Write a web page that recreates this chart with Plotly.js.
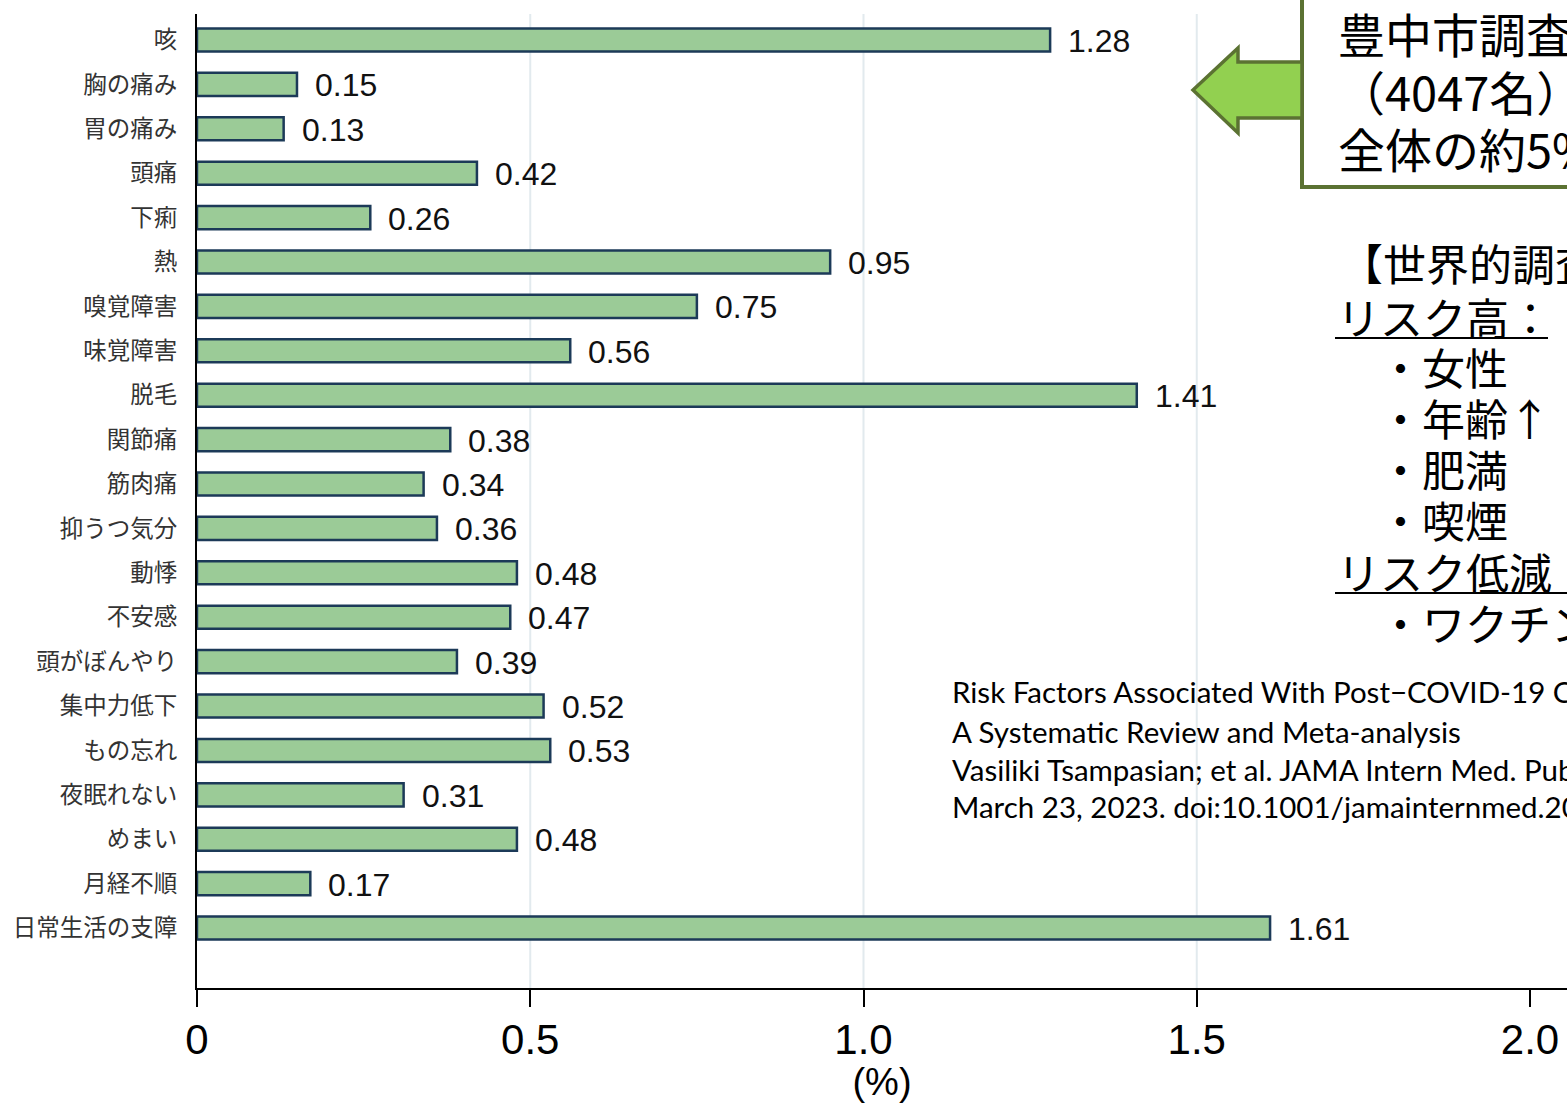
<!DOCTYPE html>
<html>
<head>
<meta charset="utf-8">
<script src="https://cdn.plot.ly/plotly-3.0.1.min.js"></script>
<style>
html,body{margin:0;padding:0;background:#fff;overflow:hidden;}
#chart{width:1567px;height:1103px;}
</style>
</head>
<body>
<div id="chart"></div>
<script>
// ---- data ----
const categories = ["咳","胸の痛み","胃の痛み","頭痛","下痢","熱","嗅覚障害","味覚障害","脱毛","関節痛","筋肉痛","抑うつ気分","動悸","不安感","頭がぼんやり","集中力低下","もの忘れ","夜眠れない","めまい","月経不順","日常生活の支障"];
const values = [1.28,0.15,0.13,0.42,0.26,0.95,0.75,0.56,1.41,0.38,0.34,0.36,0.48,0.47,0.39,0.52,0.53,0.31,0.48,0.17,1.61];
const xTickVals = [0,0.5,1.0,1.5,2.0];
const xTickText = ["0","0.5","1.0","1.5","2.0"];
const gridVals = [0.5,1.0,1.5];
const boxLines = ["豊中市調査","（4047名）","全体の約5%"];
const riskLines = ["【世界的調査】","リスク高：","・女性","・年齢↑","・肥満","・喫煙","リスク低減：","・ワクチン"];
const refLines = ["Risk Factors Associated With Post−COVID-19 Condition:","A Systematic Review and Meta-analysis","Vasiliki Tsampasian; et al. JAMA Intern Med. Published online","March 23, 2023. doi:10.1001/jamainternmed.2023.0750"];

// ---- layout helpers (pixel -> paper) ----
const W = 1567, H = 1103;
const L = 197, T = 14, B = 115, R = 0;
const PW = W - L - R, PH = H - T - B;
const px = x => (x - L) / PW;
const py = y => (H - B - y) / PH;

const CJK = '"Noto Sans CJK JP", "Noto Sans", sans-serif';
const ARIAL = '"Liberation Sans", Arial, sans-serif';

const trace = {
  type: 'bar',
  orientation: 'h',
  y: categories,
  x: values,
  width: 0.52,
  marker: {color: '#9bcb97', line: {color: '#1c3a58', width: 2.5}},
  hoverinfo: 'none'
};

const annotations = [];
// value labels
values.forEach((v, i) => {
  annotations.push({
    x: v, y: categories[i], xref: 'x', yref: 'y',
    text: v.toFixed(2), showarrow: false,
    xanchor: 'left', yanchor: 'middle', xshift: 16, yshift: -1,
    font: {family: ARIAL, size: 32, color: '#111'}
  });
});
// box text
const boxY = [33, 90, 147];
boxLines.forEach((t, i) => {
  annotations.push({
    x: px(1336), y: py(boxY[i]), xref: 'paper', yref: 'paper',
    text: t, showarrow: false, xanchor: 'left', yanchor: 'middle',
    font: {family: CJK, size: 47, color: '#000'}
  });
});
// risk text
const riskY = [262, 316, 366, 417, 468, 519, 571, 622];
const riskX = [1338, 1335, 1377, 1377, 1377, 1377, 1335, 1377];
riskLines.forEach((t, i) => {
  annotations.push({
    x: px(riskX[i]), y: py(riskY[i]), xref: 'paper', yref: 'paper',
    text: t, showarrow: false, xanchor: 'left', yanchor: 'middle',
    font: {family: CJK, size: 43, color: '#000'}
  });
});
// reference text
const refY = [692, 731, 769, 807];
refLines.forEach((t, i) => {
  annotations.push({
    x: px(950), y: py(refY[i]), xref: 'paper', yref: 'paper',
    text: t, showarrow: false, xanchor: 'left', yanchor: 'middle',
    font: {family: 'Lato, "Open Sans", sans-serif', size: 29.5, color: '#000'}
  });
});

const shapes = [];
gridVals.forEach(g => {
  shapes.push({type: 'line', xref: 'x', yref: 'paper', x0: g, x1: g, y0: 0, y1: 1,
    line: {color: '#e2eaee', width: 2}, layer: 'below'});
});
// box
shapes.push({type: 'rect', xref: 'paper', yref: 'paper',
  x0: px(1302), x1: px(1600), y0: py(187), y1: py(-20),
  line: {color: '#5b7232', width: 4}, fillcolor: '#ffffff', layer: 'below'});
// arrow
const arrowPts = [[1193,90],[1238,48],[1238,62],[1302,62],[1302,118],[1238,118],[1238,133]];
const path = 'M ' + arrowPts.map(p => px(p[0]).toFixed(5) + ',' + py(p[1]).toFixed(5)).join(' L ') + ' Z';
shapes.push({type: 'path', xref: 'paper', yref: 'paper', path: path,
  fillcolor: '#92d050', line: {color: '#5b7232', width: 3.5}, layer: 'above'});
// underlines
shapes.push({type: 'line', xref: 'paper', yref: 'paper', x0: px(1335), x1: px(1548), y0: py(338), y1: py(338),
  line: {color: '#000', width: 2}});
shapes.push({type: 'line', xref: 'paper', yref: 'paper', x0: px(1335), x1: px(1600), y0: py(593), y1: py(593),
  line: {color: '#000', width: 2}});

const layout = {
  width: W, height: H,
  margin: {l: L, r: R, t: T, b: B, pad: 0},
  paper_bgcolor: '#fff', plot_bgcolor: '#fff',
  showlegend: false,
  xaxis: {
    range: [0, PW / 666.5],
    tickvals: xTickVals, ticktext: xTickText,
    showgrid: false, zeroline: false,
    showline: true, linecolor: '#000', linewidth: 2,
    ticks: 'outside', ticklen: 17, tickwidth: 2, tickcolor: '#000',
    ticklabelstandoff: -3,
    tickfont: {family: ARIAL, size: 42, color: '#000'},
    title: {text: '(%)', font: {family: ARIAL, size: 38, color: '#000'}, standoff: 4},
    fixedrange: true
  },
  yaxis: {
    type: 'category',
    range: [21.35, -0.585],
    showgrid: false, zeroline: false,
    showline: true, linecolor: '#000', linewidth: 2,
    ticks: '', ticklabelstandoff: 13,
    tickfont: {family: CJK, size: 23.5, color: '#333'},
    fixedrange: true
  },
  annotations: annotations,
  shapes: shapes
};

Plotly.newPlot('chart', [trace], layout, {displayModeBar: false, staticPlot: true});
</script>
</body>
</html>
